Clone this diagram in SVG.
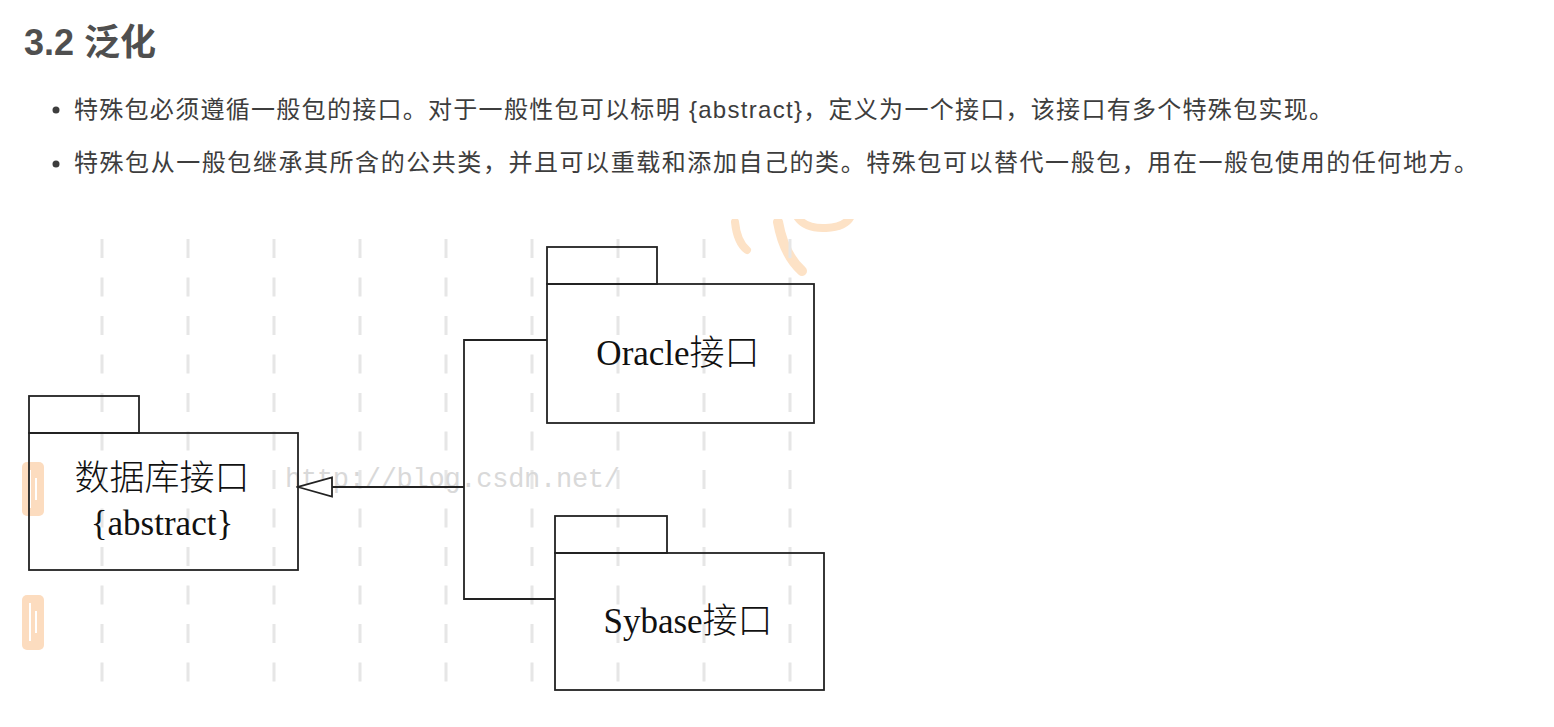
<svg xmlns="http://www.w3.org/2000/svg" width="1554" height="727" viewBox="0 0 1554 727">
<style>
.h{font-family:"Liberation Sans","Noto Sans CJK SC",sans-serif;font-weight:bold;font-size:36px;fill:#4f4f4f}
.p{font-family:"Liberation Sans","Noto Sans CJK SC",sans-serif;font-size:24px;fill:#3d3d3d}
.box{fill:none;stroke:#222;stroke-width:1.8}
.lbl{font-family:"Liberation Serif","Noto Sans CJK SC",serif;font-size:35px;font-weight:300;fill:#111;text-anchor:middle}
.grid{stroke:#e6e6e6;stroke-width:3;stroke-dasharray:19 19.5}
.wm{font-family:"Liberation Mono",monospace;font-size:27px;fill:#d9d9d9}
.or{fill:none;stroke:#fde2c6;stroke-linecap:round}
.conn{fill:none;stroke:#222;stroke-width:1.8}
</style>
<defs>
<marker id="gen" markerUnits="userSpaceOnUse" markerWidth="40" markerHeight="24" viewBox="0 0 40 24" refX="38" refY="12" orient="auto">
<path d="M38 12 L4 2.5 L4 21.5 Z" fill="#fff" stroke="#222" stroke-width="1.8"/>
</marker>
<clipPath id="img"><rect x="0" y="219" width="1554" height="508"/></clipPath>
</defs>
<rect width="1554" height="727" fill="#fff"/>
<text class="h" x="24" y="55">3.2 泛化</text>
<circle cx="56" cy="110" r="3.5" fill="#3d3d3d"/>
<circle cx="56" cy="164" r="3.5" fill="#3d3d3d"/>
<text class="p" x="74" y="118" textLength="1259">特殊包必须遵循一般包的接口。对于一般性包可以标明 {abstract}，定义为一个接口，该接口有多个特殊包实现。</text>
<text class="p" x="74" y="171" textLength="1404">特殊包从一般包继承其所含的公共类，并且可以重载和添加自己的类。特殊包可以替代一般包，用在一般包使用的任何地方。</text>
<g id="background">
<g clip-path="url(#img)">
<path class="or" stroke-width="8" d="M735 222 Q737 242 747 250"/>
<path class="or" stroke-width="10" d="M778 222 Q784 255 802 271"/>
<path class="or" stroke-width="8" d="M798 218 Q806 229 826 228 Q846 227 851 216"/>
</g>
<rect x="22" y="462" width="22" height="54" rx="5" fill="#fcdcbf"/>
<rect x="22" y="595" width="22" height="55" rx="5" fill="#fcdcbf"/>
<path d="M30 470 v38 M36 478 v22 M30 603 v38 M36 611 v22" stroke="#fff" stroke-width="2" fill="none"/>
<g class="grid">
<line x1="102" y1="239" x2="102" y2="690"/>
<line x1="188" y1="239" x2="188" y2="690"/>
<line x1="274" y1="239" x2="274" y2="690"/>
<line x1="360" y1="239" x2="360" y2="690"/>
<line x1="446" y1="239" x2="446" y2="690"/>
<line x1="532" y1="239" x2="532" y2="690"/>
<line x1="618" y1="239" x2="618" y2="690"/>
<line x1="704" y1="239" x2="704" y2="690"/>
<line x1="790" y1="239" x2="790" y2="690"/>
</g>
<text class="wm" x="285" y="487" textLength="335">http://blog.csdn.net/</text>
</g>
<g id="connectors">
<polyline class="conn" points="547,340 464,340 464,599 555,599"/>
<line class="conn" x1="464" y1="487" x2="298" y2="487" marker-end="url(#gen)"/>
</g>
<g id="pkg-db">
<rect class="box" x="29" y="396" width="110" height="37"/>
<rect class="box" x="29" y="433" width="269" height="137"/>
<text class="lbl" x="162" y="490" font-size="36">数据库接口</text>
<text class="lbl" x="162" y="535">{abstract}</text>
</g>
<g id="pkg-oracle">
<rect class="box" x="547" y="247" width="110" height="37"/>
<rect class="box" x="547" y="284" width="267" height="139"/>
<text class="lbl" x="678" y="365">Oracle接口</text>
</g>
<g id="pkg-sybase">
<rect class="box" x="555" y="516" width="112" height="37"/>
<rect class="box" x="555" y="553" width="269" height="137"/>
<text class="lbl" x="688" y="633">Sybase接口</text>
</g>
</svg>
